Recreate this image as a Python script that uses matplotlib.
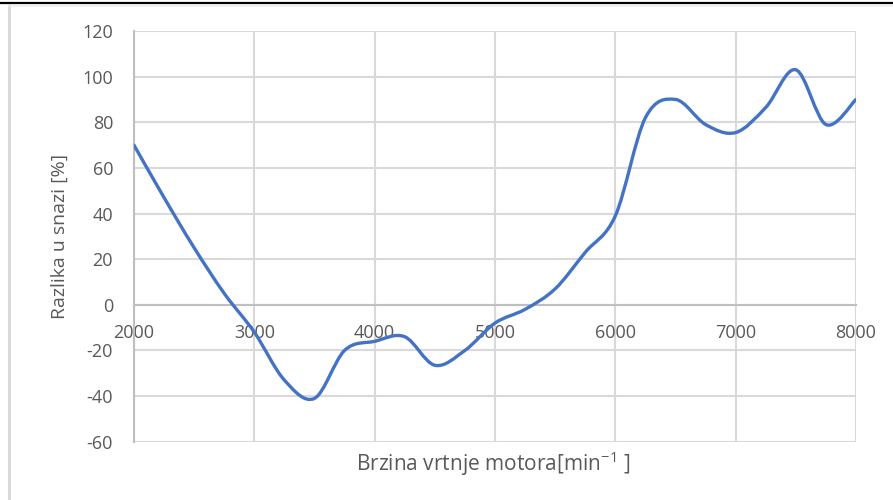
import numpy as np
import matplotlib.pyplot as plt
from matplotlib.path import Path
from matplotlib.patches import PathPatch
from matplotlib.lines import Line2D

plt.rcParams['font.family'] = ['Open Sans', 'DejaVu Sans']
plt.rcParams['mathtext.fontset'] = 'custom'
plt.rcParams['mathtext.rm'] = 'Open Sans'
plt.rcParams['axes.unicode_minus'] = False

# engine speed [min^-1] and power difference [%]
rpm = [2000, 2250, 2500, 2750, 3000, 3250, 3500, 3750, 4000, 4250, 4500, 4750, 5000,
       5250, 5500, 5750, 6000, 6250, 6500, 6750, 7000, 7250, 7500, 7750, 8000]
razlika = [70, 47, 25, 5, -12, -33, -41, -20, -16, -14, -26.5, -20, -8,
           -2, 7, 23, 39, 82, 90, 79, 75.5, 86.5, 103, 79, 90]

x_ticks = [2000, 3000, 4000, 5000, 6000, 7000, 8000]
y_ticks = [-60, -40, -20, 0, 20, 40, 60, 80, 100, 120]

txt_col = '#595959'
grid_col = '#d9d9d9'
line_col = '#4472c4'


def smooth_path(xs, ys):
    # bezier segments like a spreadsheet "smoothed line"
    p = np.column_stack([xs, ys]).astype(float)
    ext = np.vstack([p[0], p, p[-1]])
    verts = [tuple(p[0])]
    codes = [Path.MOVETO]
    for i in range(len(p) - 1):
        p0, p1, p2, p3 = ext[i], ext[i + 1], ext[i + 2], ext[i + 3]
        c1 = p1 + (p2 - p0) / 6.0
        c2 = p2 - (p3 - p1) / 6.0
        verts += [tuple(c1), tuple(c2), tuple(p2)]
        codes += [Path.CURVE4] * 3
    return Path(verts, codes)


fig = plt.figure(figsize=(8.93, 5.0), dpi=100)
ax = fig.add_axes([0.150, 0.1166, 0.8086, 0.8214])

ax.set_xlim(2000, 8000)
ax.set_ylim(-60, 120)
ax.set_xticks(x_ticks)
ax.set_yticks(y_ticks)
ax.grid(True, color=grid_col, linewidth=1.5)
ax.set_axisbelow(True)

for s in ['top', 'right']:
    ax.spines[s].set_visible(False)
ax.spines['bottom'].set_position(('data', 0))
ax.spines['bottom'].set_color('#bfbfbf')
ax.spines['bottom'].set_linewidth(1.5)
ax.spines['left'].set_color('#bfbfbf')
ax.spines['left'].set_linewidth(1.5)

ax.tick_params(axis='both', length=0, labelsize=13, labelcolor=txt_col)
ax.tick_params(axis='x', pad=14)
ax.tick_params(axis='y', pad=15)

ax.add_patch(PathPatch(smooth_path(rpm, razlika), facecolor='none',
                       edgecolor=line_col, linewidth=2.4, capstyle='round',
                       zorder=3))

ax.set_ylabel('Razlika u snazi [%]', fontsize=14, color=txt_col, labelpad=10)
fig.text(0.553, 0.073, r'Brzina vrtnje motora[min$^{\mathregular{-1}}$ ]',
         fontsize=15, color=txt_col, ha='center', va='center')

# frame around the chart area
fig.add_artist(Line2D([0, 1], [0.994, 0.994], color='black', linewidth=1.6,
                      transform=fig.transFigure))
fig.add_artist(Line2D([0.0101, 0.0101], [0.0, 0.99], color=grid_col,
                      linewidth=2.2, transform=fig.transFigure))
fig.add_artist(Line2D([0.0101, 1], [0.989, 0.989], color='#ececec',
                      linewidth=1.2, transform=fig.transFigure))

fig.savefig('out.png', dpi=100)
